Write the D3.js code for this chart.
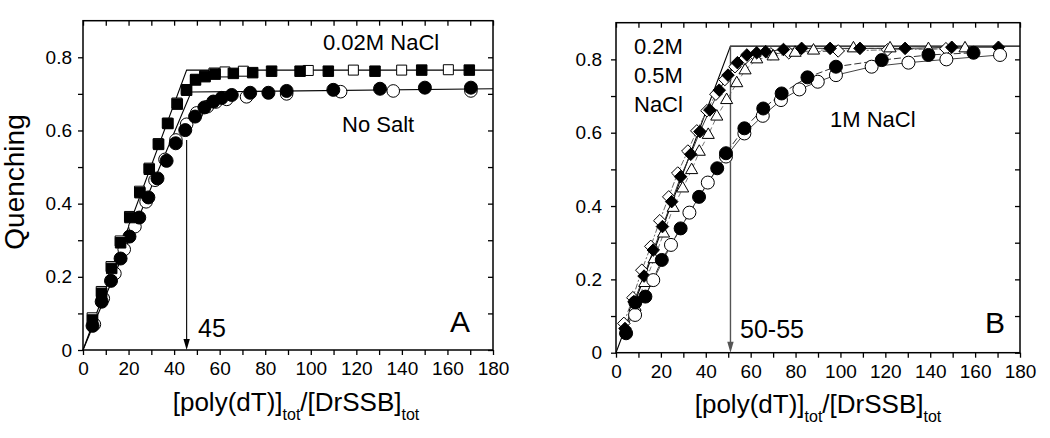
<!DOCTYPE html>
<html><head><meta charset="utf-8">
<script src="https://cdn.jsdelivr.net/npm/d3@7"></script>
<style>body{margin:0;background:#fff}svg{display:block;font-family:"Liberation Sans",Arial,sans-serif}</style>
</head><body><svg id="c" width="1050" height="438"></svg>
<script>
// ---------- data ----------
const xTickValues = [0,10,20,30,40,50,60,70,80,90,100,110,120,130,140,150,160,170,180];
const yTickValues = [0,0.1,0.2,0.3,0.4,0.5,0.6,0.7,0.8];
const yTickLabels = ["0","","0.2","","0.4","","0.6","","0.8"];

// Panel A
const aSquaresOpen = [[4,0.088],[8,0.16],[12.3,0.228],[16.3,0.298],[20.4,0.365],[24.8,0.434],[29,0.497],[33,0.564],[37,0.62],[41.2,0.675],[45.3,0.712],[49.4,0.74],[53.4,0.75],[57.5,0.757],[62.3,0.760],[70.4,0.762],[98.9,0.764],[118.7,0.765],[139.9,0.765],[160.4,0.766]];
const aSquaresFilled = [[4.2,0.082],[8.2,0.155],[12.6,0.223],[16.5,0.293],[20.6,0.362],[25.0,0.430],[29.1,0.494],[33.2,0.562],[37.3,0.619],[41.4,0.672],[45.5,0.710],[49.4,0.738],[53.6,0.747],[58,0.754],[66,0.756],[74.5,0.758],[82.8,0.762],[95.3,0.762],[107.7,0.762],[128.2,0.762],[148.7,0.765],[169.6,0.765]];
const aCirclesOpen = [[5,0.07],[8.9,0.141],[14.0,0.209],[18.1,0.275],[22.8,0.337],[27.7,0.405],[31.6,0.464],[36,0.521],[40.8,0.574],[45.5,0.617],[49.9,0.648],[54.6,0.665],[58.4,0.678],[63.1,0.685],[71.8,0.692],[89.4,0.700],[113.1,0.706],[136.2,0.708],[170.3,0.708]];
const aCirclesFilled = [[4.2,0.066],[8.2,0.132],[12.3,0.189],[16.5,0.250],[20.4,0.310],[24.7,0.362],[28.7,0.417],[32.7,0.469],[36.7,0.517],[40.7,0.565],[44.9,0.601],[49.2,0.638],[53.3,0.663],[57.2,0.679],[60.9,0.689],[65.3,0.697],[73.4,0.703],[81.4,0.703],[89.4,0.708],[109.9,0.711],[130.4,0.714],[150.1,0.717],[170.3,0.717]];
const aFitSalt = [[0,0],[45.5,0.765],[180,0.765]];
const aFitNoSalt = [[0,0],[47.5,0.705],[180,0.714]];
const aArrow = {x:45.5, from:0.574, to:0};

// Panel B
const bDiamondsOpen = [[3.5,0.08],[7.5,0.15],[11.5,0.225],[15.5,0.29],[19.5,0.36],[23.5,0.425],[27.5,0.49],[32,0.55],[36,0.605],[40.5,0.66],[44.5,0.705],[48.5,0.745],[53,0.78],[57,0.80],[62,0.81],[69,0.815],[77,0.818],[99,0.823],[121,0.826],[147,0.829]];
const bTriangles = [[4.3,0.060],[8.5,0.125],[12.8,0.19],[17.0,0.255],[21.2,0.325],[25.5,0.395],[29.7,0.448],[33.7,0.498],[37.1,0.548],[41.1,0.594],[44.9,0.644],[49.3,0.689],[53.8,0.735],[57.5,0.770],[62.7,0.800],[70,0.808],[79.8,0.818],[88,0.824],[105.8,0.830],[122.1,0.830],[139.2,0.828],[155.5,0.830]];
const bDiamondsFilled = [[4.0,0.066],[8.0,0.139],[12.5,0.209],[16.6,0.280],[20.7,0.344],[24.8,0.412],[28.8,0.480],[33.3,0.541],[37.4,0.603],[41.8,0.662],[46.0,0.716],[49.9,0.757],[54.1,0.791],[58.3,0.812],[62.7,0.818],[66.7,0.821],[74.6,0.827],[82.7,0.830],[95.4,0.830],[108.7,0.830],[128.8,0.830],[149.6,0.833],[170.4,0.833]];
const bCirclesOpen = [[8.5,0.103],[16.6,0.198],[24.5,0.294],[32.7,0.382],[40.9,0.464],[49.0,0.535],[57.2,0.598],[65.4,0.646],[73.5,0.689],[81.7,0.718],[89.9,0.739],[98.0,0.757],[113.9,0.780],[130.3,0.791],[147.2,0.800],[171.1,0.812]];
const bCirclesFilled = [[4.5,0.053],[8.6,0.137],[13.1,0.153],[20.4,0.253],[28.8,0.339],[37.0,0.425],[45.1,0.503],[49.0,0.544],[57.2,0.612],[65.6,0.666],[73.8,0.707],[85.3,0.751],[98,0.780],[118.4,0.798],[139.2,0.812],[159.3,0.818]];
const bFit = [[0,0],[51,0.836],[180,0.836]];
const bArrow = {x:51, from:0.836, to:0};

// ---------- drawing ----------
const svg = d3.select("#c");
const FONT = '"Liberation Sans", Arial, sans-serif';

function panel(box){
  const x = d3.scaleLinear().domain([0,180]).range([box.l, box.r]);
  const y = d3.scaleLinear().domain([0,0.9]).range([box.b, box.t]);
  const g = svg.append("g");
  const bottom = g.append("g").attr("transform",`translate(0,${box.b})`)
    .call(d3.axisBottom(x).tickValues(xTickValues).tickFormat(d => d%20===0 ? d : "").tickSize(5).tickPadding(7));
  const left = g.append("g").attr("transform",`translate(${box.l},0)`)
    .call(d3.axisLeft(y).tickValues(yTickValues).tickFormat((d,i)=>yTickLabels[i]).tickSize(5).tickPadding(box.lp));
  const top = g.append("g").attr("transform",`translate(0,${box.t})`)
    .call(d3.axisTop(x).tickValues(xTickValues).tickFormat("").tickSize(-5));
  const right = g.append("g").attr("transform",`translate(${box.r},0)`)
    .call(d3.axisRight(y).tickValues(yTickValues).tickFormat("").tickSize(-5));
  [bottom,left,top,right].forEach(a=>{
    a.select(".domain").remove();
    a.selectAll("line").attr("stroke","#000").attr("stroke-width",1.3);
    a.selectAll("text").attr("font-family",FONT).attr("font-size",19).attr("fill","#000");
  });
  g.append("rect").attr("x",box.l).attr("y",box.t).attr("width",box.r-box.l).attr("height",box.b-box.t)
    .attr("fill","none").attr("stroke","#000").attr("stroke-width",1.5);
  const plot = g.append("g");
  return {x,y,g,plot};
}

const line = (p)=> d3.line().x(d=>p.x(d[0])).y(d=>p.y(d[1]));

function drawLine(p, data, stroke, width, dash){
  p.plot.append("path").datum(data).attr("d", line(p)).attr("fill","none")
    .attr("stroke",stroke).attr("stroke-width",width).attr("stroke-dasharray",dash||null);
}
function markers(p, data, shape, filled, size){
  const sym = d3.symbol().type(shape).size(size);
  p.plot.append("g").selectAll("path").data(data).join("path")
    .attr("d", sym)
    .attr("transform", d=>`translate(${p.x(d[0])},${p.y(d[1])})`)
    .attr("fill", filled ? "#000" : "#fff")
    .attr("stroke","#000").attr("stroke-width",1);
}
function arrow(p, a, color, w){
  const x0 = p.x(a.x), y0 = p.y(a.from), y1 = p.y(a.to);
  p.plot.append("line").attr("x1",x0).attr("x2",x0).attr("y1",y0).attr("y2",y1-6)
    .attr("stroke",color).attr("stroke-width",w);
  p.plot.append("path").attr("d",`M${x0},${y1}L${x0-3.2},${y1-11}L${x0+3.2},${y1-11}Z`).attr("fill",color);
}
function label(x,y,txt,size){
  svg.append("text").attr("x",x).attr("y",y).attr("font-family",FONT).attr("font-size",size).attr("fill","#000").text(txt);
}
function xTitle(cx, baseline){
  const t = svg.append("text").attr("x",cx).attr("y",baseline).attr("text-anchor","middle")
    .attr("font-family",FONT).attr("font-size",26).attr("fill","#000");
  t.append("tspan").text("[poly(dT)]");
  t.append("tspan").attr("font-size",16).attr("dy",9).text("tot");
  t.append("tspan").attr("dy",-9).text("/[DrSSB]");
  t.append("tspan").attr("font-size",16).attr("dy",9).text("tot");
}

// Panel A
const A = panel({l:83, r:493, t:20.7, b:350, lp:6});
drawLine(A, aFitSalt, "#000", 1.1);
drawLine(A, aFitNoSalt, "#000", 1.1);
markers(A, aCirclesOpen, d3.symbolCircle, false, Math.PI*6.3*6.3);
markers(A, aCirclesFilled, d3.symbolCircle, true, Math.PI*6.5*6.5);
markers(A, aSquaresOpen, d3.symbolSquare, false, 10*10);
markers(A, aSquaresFilled, d3.symbolSquare, true, 10.5*10.5);
arrow(A, aArrow, "#000", 1.1);
label(323, 50, "0.02M NaCl", 22);
label(342, 132, "No Salt", 22);
label(198, 337, "45", 25);
label(450, 332, "A", 30);
svg.append("text").attr("transform","translate(24,182) rotate(-90)").attr("text-anchor","middle")
  .attr("font-family",FONT).attr("font-size",28).attr("fill","#000").text("Quenching");
xTitle(296, 411);

// Panel B
const B = panel({l:616, r:1020, t:22.7, b:352.7, lp:9});
drawLine(B, bFit, "#000", 1.1);
drawLine(B, bDiamondsOpen, "#666", 1, "6,2,2,2");
drawLine(B, bTriangles, "#777", 1, "5,3");
drawLine(B, bDiamondsFilled, "#333", 1);
drawLine(B, bCirclesOpen, "#444", 1);
drawLine(B, bCirclesFilled, "#333", 1, "7,3");
arrow(B, bArrow, "#555", 1.4);
markers(B, bDiamondsOpen, d3.symbolDiamond2, false, 100);
markers(B, bTriangles, d3.symbolTriangle2, false, 105);
markers(B, bDiamondsFilled, d3.symbolDiamond2, true, 100);
markers(B, bCirclesOpen, d3.symbolCircle, false, Math.PI*6.5*6.5);
markers(B, bCirclesFilled, d3.symbolCircle, true, Math.PI*6.5*6.5);
label(634, 54, "0.2M", 22);
label(634, 83, "0.5M", 22);
label(634, 112, "NaCl", 22);
label(830, 127, "1M NaCl", 22);
label(740, 338, "50-55", 25);
label(985, 333, "B", 30);
xTitle(818, 413);
</script></body></html>
